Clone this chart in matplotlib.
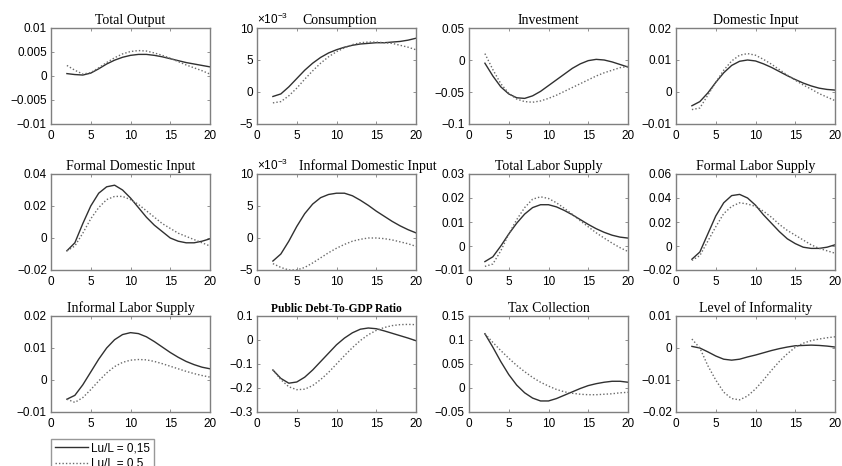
import matplotlib
matplotlib.use("Agg")
import matplotlib.pyplot as plt
import matplotlib.ticker as ticker
from matplotlib.lines import Line2D

## Horizon (periods)
periods = list(range(2, 21))

## Panel titles
titles = ["Total Output", "Consumption", "Investment", "Domestic Input",
          "Formal Domestic Input", "Informal Domestic Input", "Total Labor Supply", "Formal Labor Supply",
          "Informal Labor Supply", "Public Debt-To-GDP Ratio", "Tax Collection", "Level of Informality"]

## Impulse responses, Lu/L = 0,15 (solid) and Lu/L = 0.5 (dotted)
output_low = [0.0005, 0.0003, 0.0002, 0.0006, 0.0015, 0.0025, 0.0033, 0.0039, 0.0043, 0.0045,
              0.0045, 0.0043, 0.0040, 0.0036, 0.0032, 0.0028, 0.0025, 0.0022, 0.0019]
output_high = [0.0022, 0.0012, 0.0004, 0.0007, 0.0017, 0.0028, 0.0038, 0.0046, 0.0051, 0.0053,
               0.0052, 0.0048, 0.0043, 0.0037, 0.0030, 0.0023, 0.0017, 0.0011, 0.0004]

cons_low = [-0.7e-3, -0.3e-3, 0.8e-3, 2.1e-3, 3.4e-3, 4.5e-3, 5.4e-3, 6.1e-3, 6.6e-3, 7.0e-3,
            7.3e-3, 7.5e-3, 7.6e-3, 7.7e-3, 7.7e-3, 7.8e-3, 7.9e-3, 8.1e-3, 8.4e-3]
cons_high = [-1.7e-3, -1.5e-3, -0.6e-3, 0.6e-3, 2.0e-3, 3.3e-3, 4.5e-3, 5.5e-3, 6.3e-3, 6.9e-3,
             7.4e-3, 7.7e-3, 7.8e-3, 7.8e-3, 7.7e-3, 7.6e-3, 7.3e-3, 7.0e-3, 6.6e-3]

inv_low = [-0.005, -0.025, -0.042, -0.053, -0.059, -0.060, -0.056, -0.049, -0.040, -0.031,
           -0.022, -0.013, -0.006, -0.001, 0.001, 0.000, -0.003, -0.007, -0.011]
inv_high = [0.010, -0.015, -0.037, -0.052, -0.061, -0.065, -0.066, -0.064, -0.060, -0.055,
            -0.049, -0.043, -0.037, -0.031, -0.025, -0.020, -0.016, -0.012, -0.010]

dom_low = [-0.0043, -0.0030, -0.0003, 0.0030, 0.0060, 0.0083, 0.0096, 0.0100, 0.0097, 0.0088,
           0.0077, 0.0064, 0.0051, 0.0039, 0.0028, 0.0019, 0.0012, 0.0008, 0.0006]
dom_high = [-0.0055, -0.0050, -0.0010, 0.0030, 0.0068, 0.0097, 0.0115, 0.0120, 0.0115, 0.0102,
            0.0087, 0.0070, 0.0053, 0.0037, 0.0022, 0.0009, -0.0005, -0.0016, -0.0027]

fdom_low = [-0.008, -0.003, 0.009, 0.020, 0.028, 0.032, 0.033, 0.030, 0.025, 0.019,
            0.013, 0.008, 0.004, 0.000, -0.002, -0.003, -0.003, -0.002, -0.0005]
fdom_high = [-0.008, -0.005, 0.003, 0.012, 0.019, 0.024, 0.026, 0.026, 0.024, 0.021,
             0.017, 0.013, 0.009, 0.006, 0.003, 0.001, -0.001, -0.003, -0.005]

idom_low = [-3.6e-3, -2.5e-3, -0.5e-3, 1.8e-3, 3.8e-3, 5.3e-3, 6.3e-3, 6.8e-3, 7.0e-3, 7.0e-3,
            6.6e-3, 5.9e-3, 5.1e-3, 4.2e-3, 3.4e-3, 2.6e-3, 1.9e-3, 1.3e-3, 0.8e-3]
idom_high = [-4.0e-3, -4.6e-3, -5.0e-3, -5.0e-3, -4.6e-3, -3.9e-3, -3.1e-3, -2.3e-3, -1.6e-3, -1.0e-3,
             -0.5e-3, -0.2e-3, 0.0, 0.0, -0.1e-3, -0.3e-3, -0.6e-3, -0.9e-3, -1.3e-3]

lab_low = [-0.0065, -0.0045, 0.0000, 0.0050, 0.0095, 0.0133, 0.0160, 0.0172, 0.0172, 0.0163,
           0.0148, 0.0130, 0.0110, 0.0090, 0.0072, 0.0057, 0.0045, 0.0037, 0.0033]
lab_high = [-0.0085, -0.0075, -0.0020, 0.0050, 0.0110, 0.0160, 0.0195, 0.0205, 0.0198, 0.0180,
            0.0157, 0.0132, 0.0105, 0.0080, 0.0055, 0.0033, 0.0012, -0.0007, -0.0023]

flab_low = [-0.011, -0.005, 0.010, 0.025, 0.036, 0.042, 0.043, 0.040, 0.034, 0.026,
            0.019, 0.012, 0.006, 0.002, -0.001, -0.002, -0.002, -0.001, 0.001]
flab_high = [-0.012, -0.008, 0.004, 0.016, 0.027, 0.033, 0.036, 0.035, 0.033, 0.029,
             0.024, 0.018, 0.013, 0.009, 0.005, 0.001, -0.002, -0.004, -0.006]

ilab_low = [-0.0060, -0.0048, -0.0015, 0.0025, 0.0065, 0.0100, 0.0126, 0.0142, 0.0148, 0.0145,
            0.0135, 0.0120, 0.0103, 0.0086, 0.0071, 0.0058, 0.0048, 0.0040, 0.0035]
ilab_high = [-0.0060, -0.0070, -0.0055, -0.0030, -0.0003, 0.0022, 0.0042, 0.0055, 0.0062, 0.0064,
             0.0063, 0.0058, 0.0051, 0.0043, 0.0035, 0.0027, 0.0020, 0.0014, 0.0009]

debt_low = [-0.125, -0.160, -0.180, -0.175, -0.155, -0.125, -0.090, -0.055, -0.020, 0.008,
            0.030, 0.045, 0.050, 0.047, 0.038, 0.028, 0.018, 0.008, -0.003]
debt_high = [-0.125, -0.165, -0.195, -0.207, -0.205, -0.190, -0.165, -0.135, -0.100, -0.065,
             -0.032, -0.002, 0.022, 0.040, 0.052, 0.060, 0.064, 0.065, 0.064]

tax_low = [0.113, 0.085, 0.055, 0.028, 0.006, -0.010, -0.021, -0.027, -0.027, -0.022,
           -0.015, -0.008, -0.001, 0.005, 0.009, 0.012, 0.014, 0.014, 0.012]
tax_high = [0.113, 0.095, 0.078, 0.062, 0.047, 0.034, 0.022, 0.012, 0.004, -0.003,
            -0.008, -0.011, -0.013, -0.014, -0.014, -0.013, -0.012, -0.010, -0.009]

inf_low = [0.0005, 0.0000, -0.0012, -0.0025, -0.0035, -0.0038, -0.0035, -0.0028, -0.0022, -0.0015,
           -0.0008, -0.0002, 0.0003, 0.0007, 0.0008, 0.0009, 0.0008, 0.0006, 0.0003]
inf_high = [0.0028, 0.0000, -0.0055, -0.0100, -0.0138, -0.0158, -0.0162, -0.0150, -0.0128, -0.0100,
            -0.0070, -0.0042, -0.0018, 0.0002, 0.0015, 0.0023, 0.0028, 0.0032, 0.0035]

series_low = [output_low, cons_low, inv_low, dom_low, fdom_low, idom_low,
              lab_low, flab_low, ilab_low, debt_low, tax_low, inf_low]
series_high = [output_high, cons_high, inv_high, dom_high, fdom_high, idom_high,
               lab_high, flab_high, ilab_high, debt_high, tax_high, inf_high]

## y limits and tick steps as in the figure
ylims = [(-0.01, 0.01), (-5e-3, 10e-3), (-0.1, 0.05), (-0.01, 0.02),
         (-0.02, 0.04), (-5e-3, 10e-3), (-0.01, 0.03), (-0.02, 0.06),
         (-0.01, 0.02), (-0.3, 0.1), (-0.05, 0.15), (-0.02, 0.01)]
ysteps = [0.005, 5e-3, 0.05, 0.01, 0.02, 5e-3, 0.01, 0.02, 0.01, 0.1, 0.05, 0.01]
sci_panels = [1, 5]   # panels drawn in units of 10^-3
title_x = {1: 0.52, 5: 0.70}   # titles pushed right of the exponent label

W, H = 842, 466
fig = plt.figure(figsize=(W / 100, H / 100), dpi=100)

lefts = [51, 257, 469, 676]   # pixel left edges of columns
tops = [28, 174, 316]         # pixel top edges of rows
aw, ah = 159, 96

sans = ["Liberation Sans", "DejaVu Sans"]
serif = ["Liberation Serif", "DejaVu Serif"]
edge = "#7f7f7f"


def matlab_fmt(scale):
    def f(v, pos):
        s = "%g" % round(v * scale, 10)
        if s == "-0":
            s = "0"
        return s.replace("-", "\u2212")
    return ticker.FuncFormatter(f)


for i in range(12):
    r, c = divmod(i, 4)
    ax = fig.add_axes([lefts[c] / W, 1 - (tops[r] + ah) / H, aw / W, ah / H])
    ax.plot(periods, series_low[i], color="#303030", lw=1.0, ls="-")
    ax.plot(periods, series_high[i], color="#6a6a6a", lw=1.0, ls=(0, (1, 1.5)))
    ax.set_xlim(0, 20)
    ax.set_ylim(*ylims[i])
    lo, hi = ylims[i]
    n = int(round((hi - lo) / ysteps[i]))
    ax.set_yticks([lo + k * ysteps[i] for k in range(n + 1)])
    ax.set_xticks([0, 5, 10, 15, 20])
    ax.xaxis.set_major_formatter(matlab_fmt(1))
    ax.yaxis.set_major_formatter(matlab_fmt(1e3 if i in sci_panels else 1))
    ax.tick_params(direction="in", length=2.5, width=0.6, color=edge, top=True, right=True,
                   labelsize=8.5)
    ax.tick_params(axis="x", pad=4)
    ax.tick_params(axis="y", pad=3)
    for lbl in ax.get_xticklabels() + ax.get_yticklabels():
        lbl.set_family(sans)
    for s in ax.spines.values():
        s.set_color(edge)
        s.set_linewidth(1.0)
    if i in sci_panels:
        ax.text(0.0, 1.01, "\u00d7$\\mathregular{10^{-3}}$", transform=ax.transAxes,
                ha="left", va="bottom", fontsize=8.5, family=sans)
    if i == 9:
        t = ax.set_title(titles[i], family=serif, fontsize=8.3, fontweight="bold", pad=3)
    else:
        t = ax.set_title(titles[i], family=serif, fontsize=10, pad=3)
    if i in title_x:
        t.set_x(title_x[i])

handles = [Line2D([], [], color="#303030", lw=1.0, ls="-"),
           Line2D([], [], color="#6a6a6a", lw=1.0, ls=(0, (1, 1.5)))]
leg = fig.legend(handles, ["Lu/L = 0,15", "Lu/L = 0.5"], loc="upper left",
                 bbox_to_anchor=(51 / W, 1 - 439 / H), fancybox=False, edgecolor=edge,
                 prop={"family": sans, "size": 8.5}, handlelength=2.8, borderpad=0.3,
                 labelspacing=0.3, handletextpad=0.3, borderaxespad=0)
leg.get_frame().set_linewidth(1.0)

fig.savefig("out.png", dpi=100)
